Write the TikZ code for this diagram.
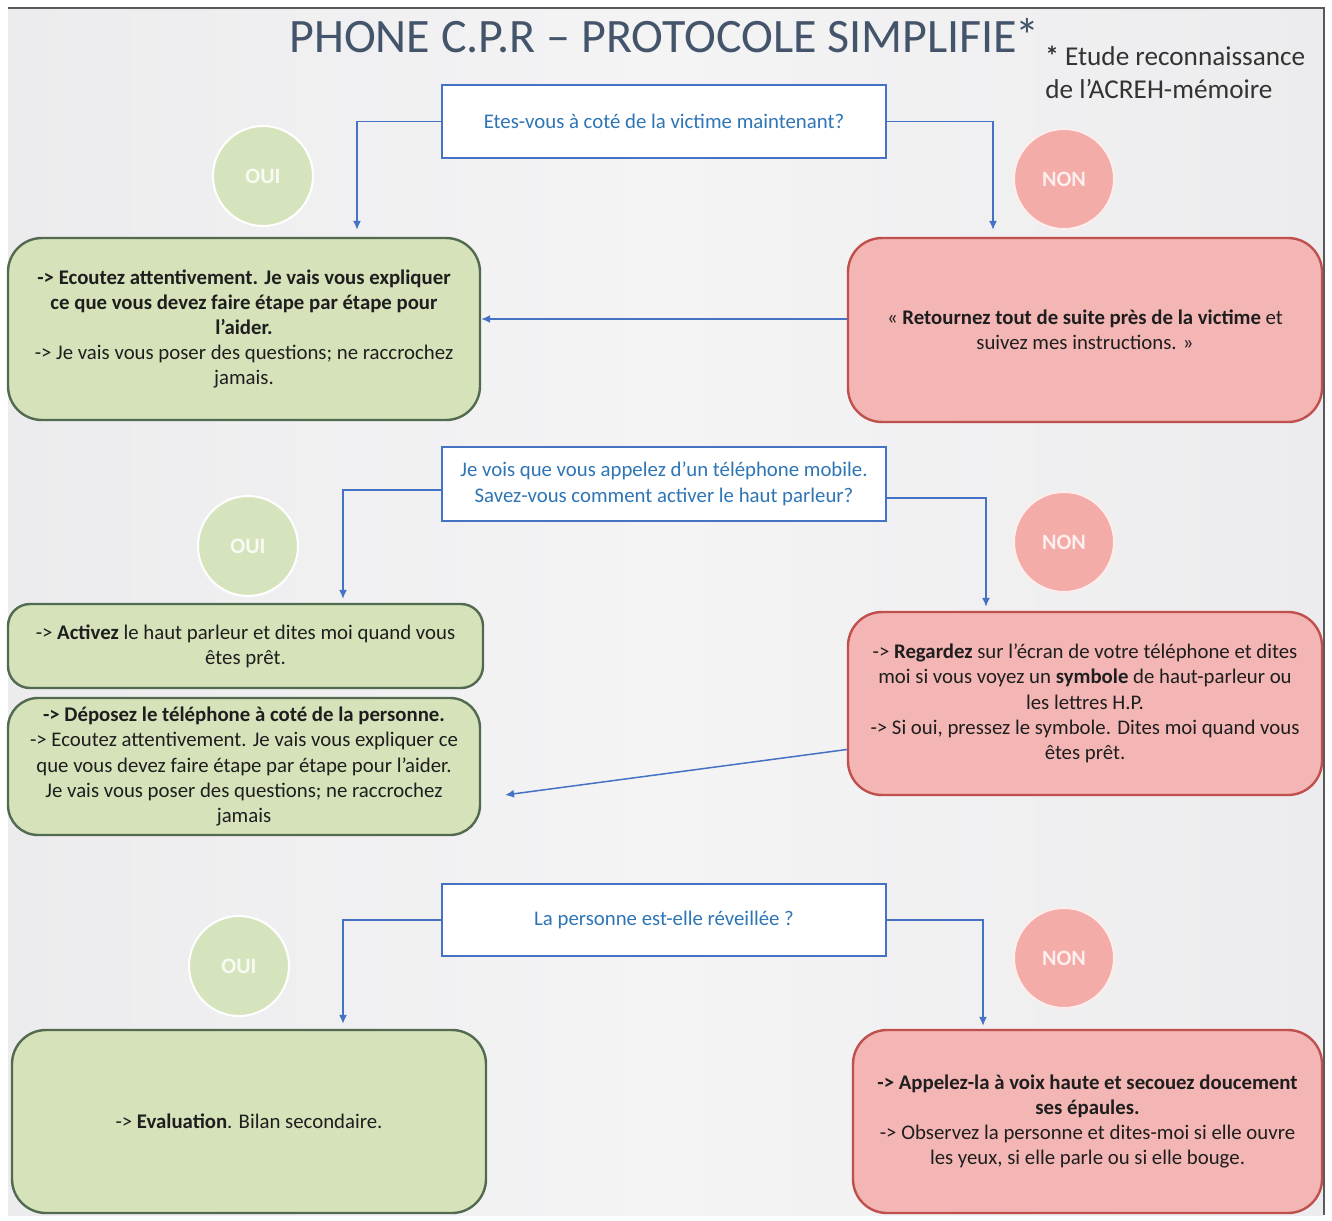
\documentclass[tikz,border=0pt]{standalone}
\usepackage{fontspec}
\setmainfont{Carlito}
\usetikzlibrary{arrows.meta}
\definecolor{slidebg}{RGB}{236,236,238}
\definecolor{slidemid}{RGB}{244,244,245}
\definecolor{framec}{RGB}{90,90,92}
\definecolor{greenfill}{RGB}{214,226,186}
\definecolor{greenline}{RGB}{82,106,80}
\definecolor{redfill}{RGB}{243,182,180}
\definecolor{redline}{RGB}{192,80,77}
\definecolor{okdisc}{RGB}{214,228,190}
\definecolor{nodisc}{RGB}{244,172,168}
\definecolor{linkblue}{RGB}{68,114,196}
\definecolor{asktext}{RGB}{46,117,182}
\definecolor{titlec}{RGB}{68,84,106}
\definecolor{bodytext}{RGB}{30,30,30}
\tikzset{
  askbox/.style={draw=linkblue, line width=1.2pt, fill=white, text=asktext,
    align=center, font=\fontsize{10.4}{12.8}\selectfont, inner sep=0pt},
  yesbox/.style={draw=greenline, line width=1.2pt, fill=greenfill, rounded corners=17pt,
    align=center, text=bodytext, font=\fontsize{10.4}{12.6}\selectfont, inner sep=0pt},
  nobox/.style={draw=redline, line width=1.2pt, fill=redfill, rounded corners=17pt,
    align=center, text=bodytext, font=\fontsize{10.4}{12.6}\selectfont, inner sep=0pt},
  okdot/.style={circle, fill=okdisc, draw=white, line width=1pt, minimum size=50pt,
    text=white!82!okdisc, font=\fontsize{11}{12}\selectfont\bfseries, inner sep=0pt},
  nodot/.style={circle, fill=nodisc, draw=white!80!nodisc, line width=1pt, minimum size=50pt,
    text=white!80!nodisc, font=\fontsize{11}{12}\selectfont\bfseries, inner sep=0pt},
  arr/.style={draw=linkblue, line width=0.75pt, -{Latex[length=4.5pt,width=4pt]}}
}
\begin{document}
\begin{tikzpicture}[x=0.5pt,y=-0.5pt]
\useasboundingbox (0,0) rectangle (1332,1220);
% slide background and frame
\fill[white] (0,0) rectangle (1332,1220);
\shade[left color=slidebg, right color=slidebg, middle color=slidemid] (8,8) rectangle (1324,1215);
\draw[framec, line width=0.9pt] (8,8) -- (1324,8) -- (1324,1215);

% title and note
\node[anchor=west, inner sep=0pt, text=titlec, font=\fontsize{24}{30}\selectfont] (title) at (289,36)
  {PHONE C.P.R -- PROTOCOLE SIMPLIFIE\kern-1pt*};
\node[anchor=west, inner sep=0pt, text=black!80, font=\fontsize{13.6}{16.5}\selectfont, align=left] (note) at (1045,72)
  {\textbf{*} Etude reconnaissance\\de l'ACREH-mémoire};

% first question
\node[askbox, minimum width=222pt, minimum height=36.5pt] (q1) at (664,121.5)
  {Etes-vous à coté de la victime maintenant?};
\node[okdot] (oui1) at (263,176) {OUI};
\node[nodot] (non1) at (1064,179) {NON};
\node[yesbox, minimum width=236pt, minimum height=91pt] (g1) at (244,329)
  {\textbf{-> Ecoutez attentivement. Je vais vous expliquer}\\
   \textbf{ce que vous devez faire étape par étape pour}\\
   \textbf{l'aider.}\\
   -> Je vais vous poser des questions; ne raccrochez\\
   jamais.};
\node[nobox, minimum width=237pt, minimum height=92pt] (r1) at (1085,330)
  {« \textbf{Retournez tout de suite près de la victime} et\\
   suivez mes instructions. »};

% second question
\node[askbox, minimum width=222pt, minimum height=37pt] (q2) at (664,484)
  {Je vois que vous appelez d'un téléphone mobile.\\Savez-vous comment activer le haut parleur?};
\node[okdot] (oui2) at (248,546) {OUI};
\node[nodot] (non2) at (1064,542) {NON};
\node[yesbox, rounded corners=11pt, minimum width=237.5pt, minimum height=42pt] (g2) at (245.5,646)
  {-> \textbf{Activez} le haut parleur et dites moi quand vous\\
   êtes prêt.};
\node[yesbox, rounded corners=15pt, minimum width=236pt, minimum height=68.5pt] (g3) at (244,766.5)
  {\textbf{-> Déposez le téléphone à coté de la personne.}\\
   -> Ecoutez attentivement. Je vais vous expliquer ce\\
   que vous devez faire étape par étape pour l'aider.\\
   Je vais vous poser des questions; ne raccrochez\\
   jamais};
\node[nobox, minimum width=237pt, minimum height=91.5pt] (r2) at (1085,703.5)
  {-> \textbf{Regardez} sur l'écran de votre téléphone et dites\\
   moi si vous voyez un \textbf{symbole} de haut-parleur ou\\
   les lettres H.P.\\
   -> Si oui, pressez le symbole. Dites moi quand vous\\
   êtes prêt.};

% third question
\node[askbox, minimum width=222pt, minimum height=36pt] (q3) at (664,920)
  {La personne est-elle réveillée ?};
\node[okdot] (oui3) at (239,966) {OUI};
\node[nodot] (non3) at (1064,958) {NON};
\node[yesbox, minimum width=237pt, minimum height=91.5pt] (g4) at (249,1121.5)
  {-> \textbf{Evaluation}. Bilan secondaire.};
\node[nobox, minimum width=234.5pt, minimum height=91.5pt] (r3) at (1087.5,1121.5)
  {\textbf{-> Appelez-la à voix haute et secouez doucement}\\
   \textbf{ses épaules.}\\
   -> Observez la personne et dites-moi si elle ouvre\\
   les yeux, si elle parle ou si elle bouge.};

% connectors
\draw[arr] (q1.west) -| ([xshift=56.5pt,yshift=3.5pt]g1.north);
\draw[arr] (q1.east) -| ([xshift=-46pt,yshift=3.5pt]r1.north);
\draw[arr] ([yshift=5.5pt]r1.west) -- ([yshift=5pt]g1.east);

\draw[arr] ([yshift=-3pt]q2.west) -| ([xshift=48.75pt,yshift=2pt]g2.north);
\draw[arr] ([yshift=-7pt]q2.east) -| ([xshift=-49.5pt,yshift=2pt]r2.north);
\coordinate (g3in) at (505,795);
\draw[arr] ([yshift=-23pt]r2.west) -- (g3in);

\draw[arr] (q3.west) -| ([xshift=47pt,yshift=2.5pt]g4.north);
\draw[arr] (q3.east) -| ([xshift=-52.25pt,yshift=1.5pt]r3.north);
\end{tikzpicture}
\end{document}
